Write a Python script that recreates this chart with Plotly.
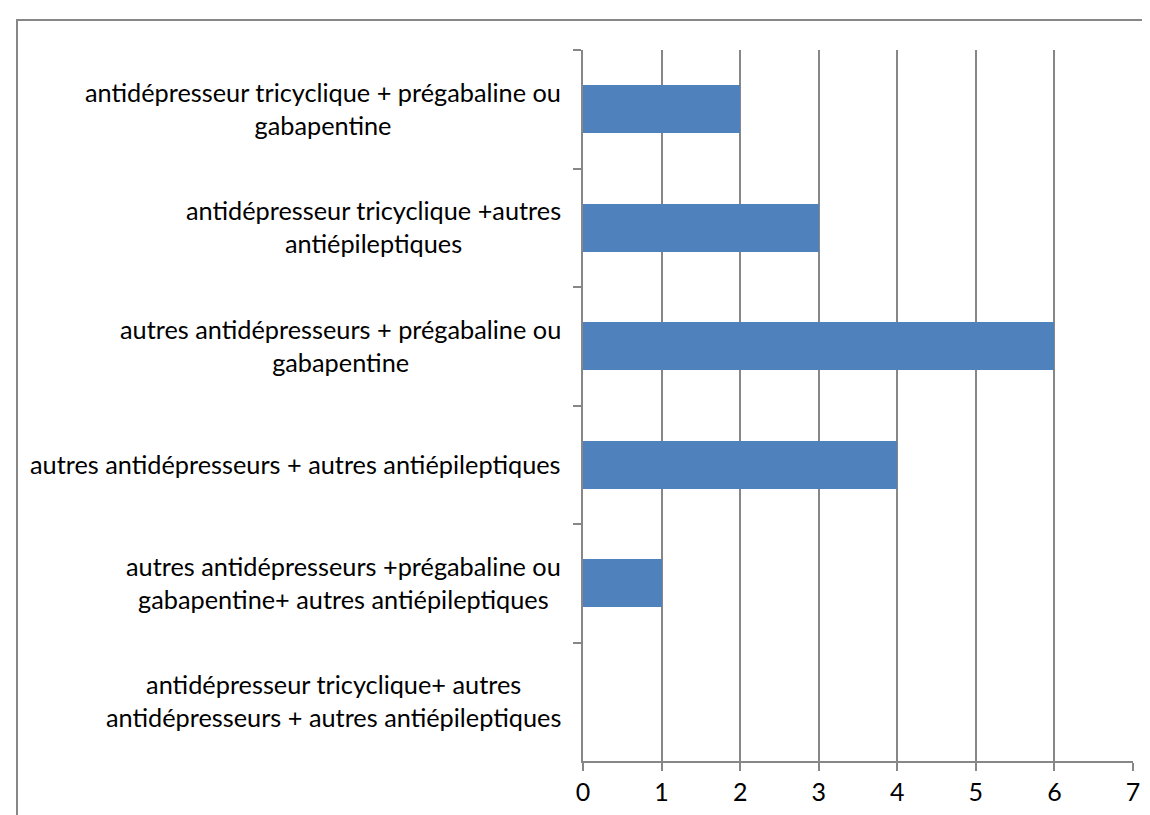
import plotly.graph_objects as go

categories = [
    "antidépresseur tricyclique + prégabaline ou<br>gabapentine",
    "antidépresseur tricyclique +autres<br>antiépileptiques",
    "autres antidépresseurs + prégabaline ou<br>gabapentine",
    "autres antidépresseurs + autres antiépileptiques",
    "autres antidépresseurs +prégabaline ou<br>gabapentine+ autres antiépileptiques",
    "antidépresseur tricyclique+ autres<br>antidépresseurs + autres antiépileptiques",
]
values = [2, 3, 6, 4, 1, 0]
x_ticks = [0, 1, 2, 3, 4, 5, 6, 7]

FONT = "Lato"
GRID = "#878787"
W, H = 1150, 815
L, R, T, B = 575, 25, 42, 62
pw, ph = W - L - R, H - T - B

fig = go.Figure()
fig.add_trace(go.Bar(
    x=values, y=categories, orientation="h",
    marker=dict(color="#4F81BD", line=dict(width=0)),
    width=0.405,
))

for c in categories:
    fig.add_annotation(
        x=0, xref="paper", y=c, yref="y", xanchor="right", yanchor="middle",
        xshift=-20, yshift=1, text=c, showarrow=False, align="center",
        font=dict(family=FONT, size=25.3, color="black"),
    )

# outer frame
fig.add_shape(
    type="rect", xref="paper", yref="paper",
    x0=(9 - L) / pw, x1=(1148 - L) / pw,
    y0=-(B + 30) / ph, y1=(H - B - 12) / ph,
    line=dict(color=GRID, width=2), fillcolor="rgba(0,0,0,0)", layer="below",
)

fig.update_layout(
    width=W, height=H,
    margin=dict(l=L, r=R, t=T, b=B),
    paper_bgcolor="white", plot_bgcolor="white",
    showlegend=False,
    bargap=0,
    xaxis=dict(
        range=[0, 7], tickvals=x_ticks, showgrid=True, gridcolor=GRID, gridwidth=2,
        showline=True, linecolor=GRID, linewidth=2, ticks="outside", ticklen=8,
        tickcolor=GRID, tickwidth=2, zeroline=False,
        tickfont=dict(family=FONT, size=25, color="black"), fixedrange=True,
    ),
    yaxis=dict(
        type="category", categoryorder="array", categoryarray=categories,
        range=[5.5, -0.5], showgrid=False, showline=True, linecolor=GRID, linewidth=2,
        ticks="outside", ticklen=8, tickcolor=GRID, tickwidth=2, tickson="boundaries",
        showticklabels=False, zeroline=False,
    ),
)

fig.write_html("out.html")
